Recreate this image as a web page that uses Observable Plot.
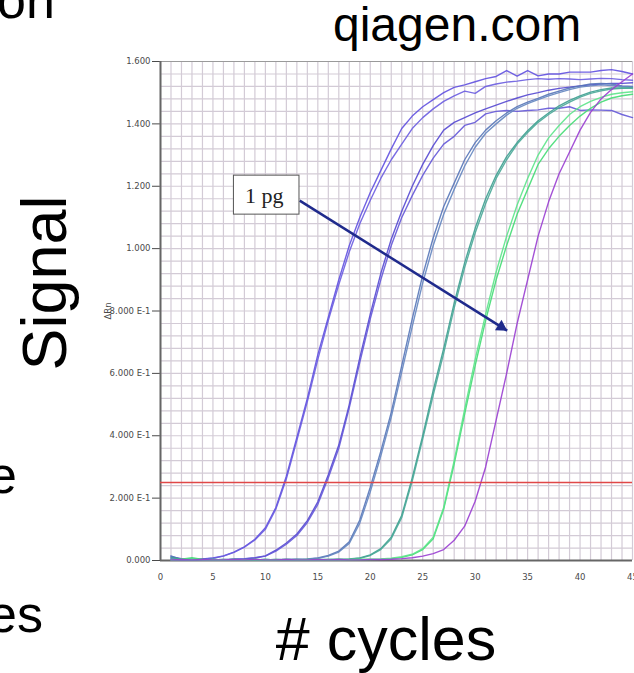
<!DOCTYPE html>
<html><head><meta charset="utf-8">
<script src="https://cdn.jsdelivr.net/npm/d3@7"></script>
<script src="https://cdn.jsdelivr.net/npm/@observablehq/plot@0.6"></script>
<style>
html,body{margin:0;padding:0;background:#fff;}
#wrap{position:relative;width:634px;height:673px;overflow:hidden;background:#fff;}
#chart{position:absolute;left:0;top:0;}
#slide{position:absolute;left:0;top:0;pointer-events:none;}
#slide text{font-family:"Liberation Sans",Arial,sans-serif;fill:#000;}
</style></head><body>
<div id="wrap"><div id="chart"></div>
<svg id="slide" width="634" height="673">
  <text x="-3" y="18" font-size="52">on</text>
  <text x="333" y="41" font-size="48">qiagen.com</text>
  <text transform="translate(66,283) rotate(-90)" text-anchor="middle" font-size="63">Signal</text>
  <text x="-12" y="493" font-size="52">e</text>
  <text x="-12" y="632" font-size="52">es</text>
  <text x="386" y="660" text-anchor="middle" font-size="61"># cycles</text>
</svg>
</div>
<script>
// ---- data ----
const cycles = d3.range(1, 46);
const xTicks = [0, 5, 10, 15, 20, 25, 30, 35, 40, 45];
const yTicks = [0, 0.2, 0.4, 0.6, 0.8, 1.0, 1.2, 1.4, 1.6];
const threshold = [0.25];

const g1a = [0.012,0.006,0.004,0.005,0.008,0.015,0.027,0.044,0.068,0.105,0.17,0.27,0.395,0.52,0.66,0.78,0.90,1.01,1.10,1.18,1.25,1.32,1.385,1.425,1.455,1.478,1.50,1.517,1.525,1.535,1.545,1.552,1.571,1.553,1.571,1.554,1.56,1.56,1.566,1.566,1.566,1.571,1.574,1.568,1.56];
const g1b = [0.005,0.004,0.003,0.004,0.007,0.014,0.026,0.043,0.066,0.10,0.165,0.262,0.385,0.51,0.645,0.77,0.885,0.99,1.08,1.155,1.225,1.285,1.335,1.385,1.42,1.448,1.472,1.49,1.505,1.498,1.52,1.528,1.534,1.537,1.542,1.545,1.543,1.545,1.544,1.542,1.544,1.546,1.545,1.542,1.54];
const g2a = [0.004,0.003,0.002,0.003,0.002,0.003,0.004,0.006,0.009,0.015,0.033,0.056,0.085,0.128,0.188,0.275,0.37,0.50,0.65,0.79,0.92,1.03,1.12,1.20,1.27,1.33,1.38,1.405,1.42,1.435,1.448,1.46,1.472,1.483,1.493,1.50,1.508,1.514,1.518,1.522,1.525,1.528,1.53,1.53,1.532];
const g2b = [0.003,0.002,0.003,0.002,0.003,0.002,0.004,0.005,0.008,0.014,0.03,0.052,0.08,0.122,0.18,0.265,0.36,0.49,0.635,0.775,0.90,1.01,1.10,1.17,1.235,1.29,1.335,1.36,1.395,1.405,1.432,1.44,1.443,1.44,1.443,1.445,1.45,1.45,1.455,1.443,1.445,1.444,1.443,1.43,1.42];
const g3a = [0.015,0.003,0.002,0.003,0.002,0.002,0.003,0.002,0.003,0.002,0.003,0.003,0.004,0.005,0.008,0.016,0.03,0.06,0.13,0.235,0.35,0.475,0.625,0.775,0.915,1.035,1.135,1.21,1.285,1.34,1.38,1.41,1.435,1.455,1.47,1.482,1.495,1.505,1.515,1.522,1.528,1.53,1.528,1.522,1.52];
const g3b = [0.004,0.002,0.003,0.002,0.003,0.002,0.002,0.003,0.002,0.003,0.002,0.003,0.003,0.004,0.007,0.014,0.027,0.055,0.12,0.22,0.335,0.46,0.605,0.75,0.89,1.01,1.11,1.19,1.265,1.325,1.37,1.40,1.428,1.45,1.465,1.478,1.49,1.50,1.51,1.518,1.522,1.525,1.523,1.52,1.518];
const g4a = [0.01,0.005,0.003,0.002,0.003,0.002,0.003,0.002,0.002,0.003,0.002,0.003,0.002,0.002,0.003,0.003,0.004,0.005,0.008,0.018,0.038,0.075,0.145,0.265,0.40,0.545,0.68,0.825,0.955,1.065,1.16,1.235,1.295,1.34,1.378,1.41,1.435,1.458,1.475,1.49,1.502,1.51,1.515,1.515,1.515];
const g4b = [0.002,0.003,0.002,0.003,0.002,0.002,0.003,0.002,0.003,0.002,0.002,0.002,0.003,0.002,0.002,0.003,0.003,0.004,0.007,0.016,0.035,0.07,0.138,0.255,0.39,0.53,0.665,0.81,0.94,1.05,1.145,1.225,1.285,1.335,1.372,1.405,1.43,1.452,1.47,1.486,1.498,1.506,1.512,1.514,1.515];
const g5a = [0.003,0.004,0.009,0.003,0.002,0.003,0.002,0.002,0.003,0.002,0.003,0.002,0.002,0.003,0.002,0.002,0.003,0.002,0.003,0.003,0.004,0.006,0.01,0.018,0.035,0.07,0.165,0.31,0.47,0.625,0.77,0.90,1.01,1.11,1.19,1.27,1.32,1.36,1.395,1.425,1.45,1.47,1.483,1.49,1.495];
const g5b = [0.002,0.003,0.004,0.002,0.003,0.002,0.003,0.002,0.002,0.003,0.002,0.003,0.002,0.002,0.003,0.002,0.002,0.003,0.003,0.004,0.005,0.007,0.012,0.02,0.038,0.075,0.17,0.32,0.485,0.645,0.79,0.925,1.04,1.14,1.225,1.30,1.355,1.395,1.43,1.455,1.472,1.485,1.495,1.50,1.503];
const g6a = [0.002,0.003,0.002,0.003,0.002,0.002,0.003,0.002,0.003,0.002,0.002,0.003,0.002,0.002,0.003,0.002,0.003,0.002,0.002,0.003,0.003,0.004,0.006,0.009,0.014,0.022,0.035,0.065,0.11,0.19,0.30,0.45,0.60,0.76,0.90,1.04,1.15,1.24,1.31,1.38,1.437,1.48,1.51,1.535,1.56];

const curveNames = ["g1a","g1b","g2a","g2b","g3a","g3b","g4a","g4b","g5a","g5b","g6a"];
const curveValues = [g1a,g1b,g2a,g2b,g3a,g3b,g4a,g4b,g5a,g5b,g6a];
const curveColors = ["#6050e0","#6a5ce0","#5548d2","#6458d8","#5676b8","#6486c0","#3c9e90","#4aa898","#44dc74","#5ce48a","#9a3ed2"];

// annotation (data coordinates)
const labelBox = [{x1: 7.0, x2: 13.25, y1: 1.109, y2: 1.234}];
const labelText = [{x: 9.9, y: 1.168, text: "1 pg"}];
const arrowData = [{x1: 13.27, y1: 1.154, x2: 33.05, y2: 0.737}];

// ---- build ----
const series = curveValues.map((vals, k) => vals.map((v, i) => ({cycle: cycles[i], value: v, curve: curveNames[k]})));

const fmt = v => v === 0 ? "0.000" : (v >= 1 ? v.toFixed(3) : (v * 10).toFixed(3) + " E-1");

const chart = Plot.plot({
  width: 634, height: 673,
  marginLeft: 160, marginRight: 2, marginTop: 61, marginBottom: 113,
  style: {fontFamily: "DejaVu Sans, sans-serif", fontSize: "8.5px", color: "#4a4a4a", background: "transparent", overflow: "visible"},
  x: {domain: [0, 45], ticks: xTicks, tickSize: 0, tickPadding: 13, label: null},
  y: {domain: [0, 1.6], ticks: yTicks, tickFormat: fmt, tickSize: 8, tickPadding: 2, label: "ΔRn", labelAnchor: "center", labelOffset: 56, labelArrow: "none"},
  marks: [
    Plot.ruleX(d3.range(0, 46), {stroke: "#d3cbd6", strokeWidth: 1.2}),
    Plot.ruleY(d3.range(0, 1.6001, 0.04), {stroke: "#d3cbd6", strokeWidth: 1.2}),
    Plot.ruleY([1.6], {stroke: "#9a9a9a", strokeWidth: 1}),
    Plot.ruleX([0], {stroke: "#666", strokeWidth: 2}),
    Plot.ruleY([0], {stroke: "#666", strokeWidth: 2}),
    ...series.map((s, k) => Plot.line(s, {x: "cycle", y: "value", stroke: curveColors[k], strokeWidth: 1.4, strokeOpacity: 0.9})),
    Plot.ruleY(threshold, {stroke: "#e04848", strokeWidth: 1.5}),
    Plot.link(arrowData, {x1: "x1", y1: "y1", x2: "x2", y2: "y2", stroke: "#1f2a8c", strokeWidth: 2.5}),
    Plot.dot(arrowData, {x: "x2", y: "y2", symbol: "triangle", r: 4.6, rotate: 122, fill: "#1f2a8c", stroke: "none", dx: -5.9, dy: -3.7}),
    Plot.rect(labelBox, {x1: "x1", x2: "x2", y1: "y1", y2: "y2", fill: "#fff", stroke: "#555", strokeWidth: 1}),
    Plot.text(labelText, {x: "x", y: "y", text: "text", fontFamily: "Liberation Serif, serif", fontSize: 22, fill: "#222"})
  ]
});
document.getElementById("chart").appendChild(chart);
</script>
</body></html>
